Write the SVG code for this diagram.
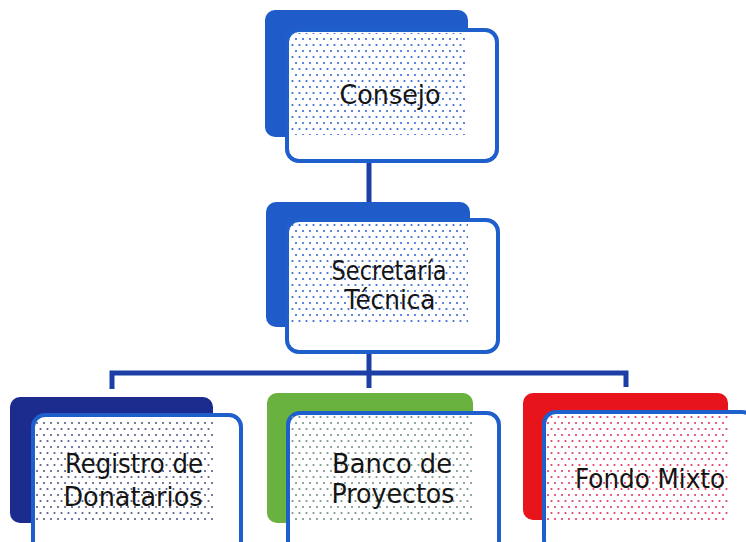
<svg xmlns="http://www.w3.org/2000/svg" width="746" height="542" viewBox="0 0 746 542">
<defs>
<pattern id="dBlue" width="7" height="12" patternUnits="userSpaceOnUse">
<circle cx="2" cy="3" r="1.1" fill="#3a68d6"/><circle cx="5.5" cy="9" r="1.1" fill="#3a68d6"/>
</pattern>
<pattern id="dNavy" width="7" height="12" patternUnits="userSpaceOnUse">
<circle cx="2" cy="3" r="1.1" fill="#555c86"/><circle cx="5.5" cy="9" r="1.1" fill="#555c86"/>
</pattern>
<pattern id="dGreen" width="7" height="12" patternUnits="userSpaceOnUse">
<circle cx="2" cy="3" r="1.1" fill="#76948a"/><circle cx="5.5" cy="9" r="1.1" fill="#76948a"/>
</pattern>
<pattern id="dRed" width="7" height="12" patternUnits="userSpaceOnUse">
<circle cx="2" cy="3" r="1.1" fill="#e63a66"/><circle cx="5.5" cy="9" r="1.1" fill="#e63a66"/>
</pattern>
<style>
.front{fill:#fff;stroke:#1f5fcc;stroke-width:4}
.lbl{font-family:"DejaVu Sans","Liberation Sans",sans-serif;font-size:27px;fill:#151515;text-anchor:middle}
.conn{fill:none;stroke:#1c3fa6;stroke-width:5}
</style>
</defs>
<rect width="746" height="542" fill="#fff"/>
<g id="connectors">
<path class="conn" d="M369 161 V204"/>
<path class="conn" d="M369 352 V388"/>
<path class="conn" d="M112 389 V373 H626 V387"/>
</g>
<g id="consejo">
<rect x="265" y="10" width="203" height="127" rx="10" fill="#1f5bc9"/>
<rect class="front" x="287" y="30" width="210" height="131" rx="12"/>
<rect x="290" y="33" width="176" height="102" fill="url(#dBlue)"/>
<text class="lbl" x="390" y="104" textLength="101" lengthAdjust="spacingAndGlyphs">Consejo</text>
</g>
<g id="secretaria">
<rect x="266" y="202" width="204" height="125" rx="10" fill="#1f5bc9"/>
<rect class="front" x="287" y="220" width="211" height="132" rx="12"/>
<rect x="290" y="223" width="178" height="102" fill="url(#dBlue)"/>
<text class="lbl" x="389" y="280" textLength="115" lengthAdjust="spacingAndGlyphs">Secretaría</text>
<text class="lbl" x="390" y="309" textLength="91" lengthAdjust="spacingAndGlyphs">Técnica</text>
</g>
<g id="registro">
<rect x="10" y="397" width="203" height="126" rx="10" fill="#1b2b8e"/>
<rect class="front" x="33" y="415" width="208" height="140" rx="12"/>
<rect x="36" y="418" width="177" height="105" fill="url(#dNavy)"/>
<text class="lbl" x="134" y="473" textLength="138" lengthAdjust="spacingAndGlyphs">Registro de</text>
<text class="lbl" x="133" y="506" textLength="139" lengthAdjust="spacingAndGlyphs">Donatarios</text>
</g>
<g id="banco">
<rect x="267" y="393" width="206" height="130" rx="10" fill="#6ab23f"/>
<rect class="front" x="288" y="413" width="211" height="140" rx="12"/>
<rect x="291" y="416" width="182" height="107" fill="url(#dGreen)"/>
<text class="lbl" x="392" y="473" textLength="120" lengthAdjust="spacingAndGlyphs">Banco de</text>
<text class="lbl" x="393" y="503" textLength="123" lengthAdjust="spacingAndGlyphs">Proyectos</text>
</g>
<g id="fondo">
<rect x="523" y="393" width="205" height="127" rx="10" fill="#e8141c"/>
<rect class="front" x="544" y="412" width="210" height="140" rx="12"/>
<rect x="547" y="415" width="181" height="105" fill="url(#dRed)"/>
<text class="lbl" x="650" y="488" textLength="150" lengthAdjust="spacingAndGlyphs">Fondo Mixto</text>
</g>
</svg>
